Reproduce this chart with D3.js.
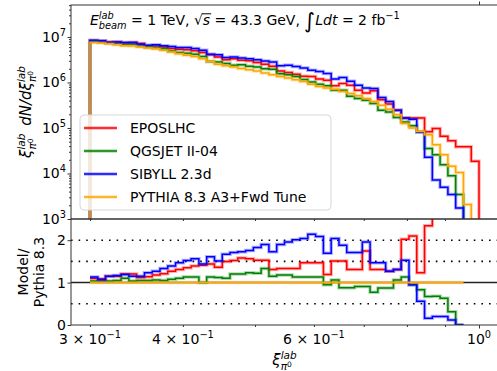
<!DOCTYPE html>
<html>
<head>
<meta charset="utf-8">
<script src="https://cdn.jsdelivr.net/npm/d3@7"></script>
<style>
  body { margin: 0; background: #fff; }
  text { font-family: "DejaVu Sans", sans-serif; fill: #000; white-space: pre; }
</style>
</head>
<body>
<svg id="chart" width="497" height="371"></svg>
<script>
// 50 log bins between 0.3 and 1.0
const nBins = 50;
const xLo = 0.3, xHi = 1.0;
const edges = d3.range(nBins + 1).map(i => xLo * Math.pow(xHi / xLo, i / nBins));

// top panel: counts per bin
const pythia = [7.59e6,7.41e6,7.08e6,6.76e6,6.46e6,6.31e6,6.03e6,5.75e6,5.50e6,5.13e6,
  4.68e6,4.27e6,3.98e6,3.72e6,3.31e6,2.88e6,2.51e6,2.34e6,2.19e6,2.04e6,
  1.91e6,1.78e6,1.62e6,1.48e6,1.35e6,1.26e6,1.15e6,1.05e6,9.12e5,8.13e5,
  7.59e5,7.08e5,6.31e5,5.75e5,5.13e5,4.47e5,3.80e5,3.16e5,2.57e5,1.95e5,
  1.26e5,1.00e5,8.51e4,7.08e4,4.27e4,2.57e4,1.45e4,1.05e4,2.09e3,0];

const epos = [8.32e6,8.13e6,7.76e6,7.76e6,7.41e6,7.59e6,7.24e6,6.46e6,6.31e6,6.03e6,
  5.62e6,5.37e6,5.25e6,5.01e6,4.57e6,4.07e6,3.63e6,3.16e6,3.31e6,3.09e6,
  3.02e6,2.75e6,2.51e6,2.29e6,1.78e6,1.66e6,1.51e6,1.38e6,1.35e6,1.20e6,
  1.12e6,8.51e5,9.55e5,8.71e5,6.76e5,5.89e5,6.61e5,4.17e5,3.39e5,2.45e5,
  1.66e5,1.66e5,1.66e5,8.32e4,9.77e4,6.61e4,5.25e4,3.89e4,3.89e4,1.86e4];

const qgsjet = [7.94e6,7.76e6,7.41e6,7.08e6,6.76e6,6.92e6,6.31e6,6.03e6,5.75e6,5.50e6,
  4.90e6,4.57e6,4.37e6,4.17e6,3.72e6,2.88e6,2.82e6,2.63e6,2.40e6,2.45e6,
  2.29e6,2.19e6,2.00e6,1.95e6,1.55e6,1.48e6,1.35e6,1.17e6,1.02e6,9.12e5,
  8.51e5,6.76e5,6.76e5,5.01e5,4.47e5,4.07e5,3.47e5,2.45e5,2.24e5,1.70e5,
  1.35e5,1.12e5,8.13e4,3.55e4,2.57e4,1.55e4,8.91e3,3.47e3,0,0];

const sibyll = [8.51e6,8.32e6,7.59e6,7.76e6,7.59e6,7.59e6,6.92e6,6.61e6,6.76e6,6.46e6,
  6.17e6,5.89e6,5.89e6,5.62e6,5.13e6,4.17e6,4.07e6,3.55e6,3.63e6,3.47e6,
  3.31e6,3.16e6,2.95e6,2.82e6,2.34e6,2.40e6,2.24e6,2.09e6,1.86e6,1.74e6,
  1.58e6,1.20e6,1.29e6,1.07e6,8.71e5,7.59e5,7.41e5,4.68e5,3.80e5,2.45e5,
  1.66e5,1.55e5,8.13e4,2.29e4,7.24e3,5.01e3,3.47e3,1.74e3,0,0];

// bottom panel: ratio to pythia, as drawn per bin
const ratioEpos = [1.10,1.09,1.15,1.15,1.20,1.20,1.12,1.14,1.18,1.21,
  1.27,1.31,1.35,1.39,1.41,1.44,1.36,1.50,1.52,1.58,
  1.56,1.53,1.53,1.31,1.33,1.33,1.33,1.47,1.47,1.47,
  1.19,1.51,1.51,1.31,1.31,1.745,1.31,1.31,1.27,1.31,
  2.02,2.10,1.23,2.34,2.60,3.60,3.70,18.0,null,null];

const ratioQgsjet = [1.04,1.04,1.04,1.05,1.10,1.04,1.05,1.05,1.06,1.05,
  1.08,1.10,1.13,1.13,1.00,1.13,1.12,1.10,1.20,1.20,
  1.23,1.22,1.33,1.15,1.18,1.18,1.13,1.13,1.13,1.13,
  0.95,1.06,0.88,0.88,0.91,0.91,0.77,0.875,0.875,1.06,
  1.13,0.95,0.83,0.67,0.68,0.63,0.31,0,null,null];

const ratioSibyll = [1.13,1.07,1.15,1.17,1.19,1.15,1.15,1.23,1.27,1.33,
  1.39,1.47,1.52,1.56,1.44,1.61,1.51,1.67,1.71,1.73,
  1.76,1.83,1.90,1.73,1.90,1.96,2.01,2.04,2.14,2.09,
  1.69,2.04,1.88,1.71,1.71,1.96,1.47,1.47,1.27,1.31,
  1.53,0.95,0.56,0.16,0.20,0.20,0.12,0,null,null];

const ratioPythia = [1,1,1,1,1,1,1,1,1,1, 1,1,1,1,1,1,1,1,1,1,
  1,1,1,1,1,1,1,1,1,1, 1,1,1,1,1,1,1,1,1,1,
  1,1,1,1,1,1,1,1,null,null];

const series = [
  { name: 'EPOSLHC', color: 'red', top: epos, ratio: ratioEpos },
  { name: 'QGSJET II-04', color: 'green', top: qgsjet, ratio: ratioQgsjet },
  { name: 'SIBYLL 2.3d', color: 'blue', top: sibyll, ratio: ratioSibyll },
  { name: 'PYTHIA 8.3 A3+Fwd Tune', color: 'orange', top: pythia, ratio: ratioPythia }
];

const topMajors = [1e3, 1e4, 1e5, 1e6, 1e7];
const ratioTicks = [0, 1, 2];
const ratioGuides = [0.5, 1.5, 2];

const L = 71, R = 498, T = 5, M = 219, B = 325;

const svg = d3.select('#chart');

const x = d3.scaleLog().domain([0.2829, 1.0605]).range([L, R]);
const yTop = d3.scaleLog().domain([1e3, 5.05e7]).range([M, T]);
const yBot = d3.scaleLinear().domain([0, 2.5]).range([B, M]);

// rich text helper: one <text>, one tspan per piece laid out left to right,
// stack = same x as the previous group start, follow = right after the last piece
function rich(parent, px, py, pieces, opt) {
  opt = opt || {};
  const base = opt.size || 14;
  const g = parent.append('g');
  const inner = g.append('g');
  const txt = inner.append('text');
  let cx = 0, groupStart = 0, lastEnd = 0;
  pieces.forEach(p => {
    const s = base * (p.s || 1);
    const t = txt.append('tspan')
      .attr('font-size', s)
      .attr('y', (p.dy || 0) * base)
      .attr('x', 0)
      .style('font-style', p.it ? 'italic' : 'normal')
      .text(p.t);
    const w = t.node().getComputedTextLength();
    let start;
    if (p.stack) start = groupStart;
    else if (p.follow) start = lastEnd;
    else { start = cx + (p.dx || 0); groupStart = start; }
    t.attr('x', start);
    lastEnd = start + w;
    cx = Math.max(cx, lastEnd);
    if (p.over) {
      inner.append('line')
        .attr('x1', start - 1).attr('x2', start + w + 1)
        .attr('y1', -0.8 * base).attr('y2', -0.8 * base)
        .attr('stroke', '#000').attr('stroke-width', 1);
    }
  });
  const shift = opt.anchor === 'middle' ? -cx / 2 : opt.anchor === 'end' ? -cx : 0;
  inner.attr('transform', `translate(${shift},0)`);
  g.attr('transform', `translate(${px},${py})` + (opt.rotate ? ` rotate(${opt.rotate})` : ''));
  return g;
}

// clip paths
const defs = svg.append('defs');
defs.append('clipPath').attr('id', 'clipTop')
  .append('rect').attr('x', L).attr('y', T).attr('width', R - L).attr('height', M - T);
defs.append('clipPath').attr('id', 'clipBot')
  .append('rect').attr('x', L).attr('y', M).attr('width', R - L).attr('height', B - M);

// ---------- top panel ----------
function topPath(vals) {
  const below = M + 20;
  let last = -1;
  vals.forEach((v, i) => { if (v > 0) last = i; });
  const pts = [[x(edges[0]), below]];
  for (let i = 0; i <= last; i++) {
    const yy = vals[i] > 0 ? yTop(vals[i]) : below;
    pts.push([x(edges[i]), yy]);
    pts.push([x(edges[i + 1]), yy]);
  }
  pts.push([x(edges[last + 1]), below]);
  return d3.line()(pts);
}

const topG = svg.append('g').attr('clip-path', 'url(#clipTop)');
series.forEach(s => {
  const d = topPath(s.top);
  topG.append('path').attr('d', d).attr('fill', 'none')
    .attr('stroke', s.color).attr('stroke-width', 3.5).attr('stroke-opacity', 0.3);
  topG.append('path').attr('d', d).attr('fill', 'none')
    .attr('stroke', s.color).attr('stroke-width', 1.5);
});

// ---------- bottom panel ----------
const botG = svg.append('g').attr('clip-path', 'url(#clipBot)');

ratioGuides.forEach(v => {
  botG.append('line')
    .attr('x1', L).attr('x2', R).attr('y1', yBot(v)).attr('y2', yBot(v))
    .attr('stroke', '#000').attr('stroke-width', 1.6)
    .attr('stroke-dasharray', '1.6,6');
});
botG.append('line')
  .attr('x1', L).attr('x2', R).attr('y1', yBot(1)).attr('y2', yBot(1))
  .attr('stroke', '#222').attr('stroke-width', 1.5);

function ratioPath(vals) {
  let d = '';
  let open = false;
  vals.forEach((v, i) => {
    if (v == null) { open = false; return; }
    const y0 = yBot(Math.min(v, 4));
    if (!open) { d += `M${x(edges[i])},${y0}`; open = true; }
    else d += `L${x(edges[i])},${y0}`;
    d += `L${x(edges[i + 1])},${y0}`;
  });
  return d;
}

series.forEach(s => {
  const d = ratioPath(s.ratio);
  botG.append('path').attr('d', d).attr('fill', 'none')
    .attr('stroke', s.color).attr('stroke-width', 3.5).attr('stroke-opacity', 0.3);
  botG.append('path').attr('d', d).attr('fill', 'none')
    .attr('stroke', s.color).attr('stroke-width', 1.5);
});

// ---------- axes ----------
const topMinors = [];
topMajors.forEach(dec => {
  for (let k = 2; k <= 9; k++) if (dec * k < 5.05e7) topMinors.push(dec * k);
});
svg.append('g').attr('transform', `translate(${L},0)`)
  .call(d3.axisLeft(yTop).tickValues(topMajors).tickSize(3.5).tickFormat(''))
  .call(g => g.select('.domain').remove());
svg.append('g').attr('transform', `translate(${L},0)`)
  .call(d3.axisLeft(yTop).tickValues(topMinors).tickSize(2).tickFormat(''))
  .call(g => g.select('.domain').remove());

topMajors.forEach(v => {
  const e = Math.round(Math.log10(v));
  rich(svg, 66, yTop(v) + 5, [{ t: '10' }, { t: String(e), s: 0.7, dy: -0.45 }], { anchor: 'end', size: 14 });
});

// bottom panel y
svg.append('g').attr('transform', `translate(${L},0)`)
  .call(d3.axisLeft(yBot).tickValues(ratioTicks).tickSize(3.5).tickFormat(''))
  .call(g => g.select('.domain').remove());
ratioTicks.forEach(v => {
  svg.append('text').attr('x', 66).attr('y', yBot(v) + 5)
    .attr('text-anchor', 'end').attr('font-size', 14).text(v);
});

// x axis
const xMinors = [0.3, 0.4, 0.5, 0.6, 0.7, 0.8, 0.9];
svg.append('g').attr('transform', `translate(0,${B})`)
  .call(d3.axisBottom(x).tickValues(xMinors).tickSize(2).tickFormat(''))
  .call(g => g.select('.domain').remove());
svg.append('g').attr('transform', `translate(0,${B})`)
  .call(d3.axisBottom(x).tickValues([1.0]).tickSize(3.5).tickFormat(''))
  .call(g => g.select('.domain').remove());
svg.append('g').attr('transform', `translate(0,${M})`)
  .call(d3.axisBottom(x).tickValues(xMinors).tickSize(2).tickFormat(''))
  .call(g => g.select('.domain').remove());
svg.append('g').attr('transform', `translate(0,${T})`)
  .call(d3.axisTop(x).tickValues([1.0]).tickSize(3.5).tickFormat(''))
  .call(g => g.select('.domain').remove());

const xLabels = [{ v: 0.3, m: '3' }, { v: 0.4, m: '4' }, { v: 0.6, m: '6' }];
xLabels.forEach(l => {
  rich(svg, x(l.v), B + 19, [{ t: l.m + ' \u00d7 10' }, { t: '\u22121', s: 0.7, dy: -0.45 }], { anchor: 'middle' });
});
rich(svg, x(1.0), B + 19, [{ t: '10' }, { t: '0', s: 0.7, dy: -0.45 }], { anchor: 'middle' });

svg.selectAll('.tick line').attr('stroke', '#000').attr('stroke-width', 0.8);

// spines
svg.append('rect').attr('x', L).attr('y', T).attr('width', R - L).attr('height', M - T)
  .attr('fill', 'none').attr('stroke', '#333').attr('stroke-width', 1);
svg.append('rect').attr('x', L).attr('y', M).attr('width', R - L).attr('height', B - M)
  .attr('fill', 'none').attr('stroke', '#333').attr('stroke-width', 1);

// ---------- text ----------
rich(svg, 90, 25, [
  { t: 'E', it: 1 }, { t: 'lab', it: 1, s: 0.7, dy: -0.45 }, { t: 'beam', it: 1, s: 0.7, dy: 0.3, stack: 1 },
  { t: ' = 1 TeV, ' }, { t: '\u221a' }, { t: 's', it: 1, over: 1 },
  { t: ' = 43.3 GeV, ' }, { t: '\u222b', s: 1.5, dy: 0.18 }, { t: 'Ldt', it: 1 },
  { t: ' = 2 fb' }, { t: '\u22121', s: 0.7, dy: -0.45 }
], { size: 14 });

// y label top
const xiPi = [
  { t: '\u03be', it: 1 }, { t: 'lab', it: 1, s: 0.7, dy: -0.4 },
  { t: '\u03c0', it: 1, s: 0.7, dy: 0.32, stack: 1 }, { t: '0', s: 0.5, dy: 0.1, follow: 1 }
];
rich(svg, 31, (T + M) / 2, [].concat(xiPi, [{ t: ' dN/d', it: 1, dx: 3 }], xiPi),
  { anchor: 'middle', rotate: -90, size: 15 });

// y label bottom
rich(svg, 28, (M + B) / 2, [{ t: 'Model/' }], { anchor: 'middle', rotate: -90, size: 14 });
rich(svg, 44, (M + B) / 2, [{ t: 'Pythia 8.3' }], { anchor: 'middle', rotate: -90, size: 14 });

// x label
rich(svg, (L + R) / 2, 365, xiPi, { anchor: 'middle', size: 15 });

// ---------- legend ----------
const leg = svg.append('g');
leg.append('rect').attr('x', 80).attr('y', 115).attr('width', 251).attr('height', 95)
  .attr('rx', 4).attr('fill', '#fff').attr('fill-opacity', 0.8)
  .attr('stroke', '#d6d6d6').attr('stroke-width', 1);
series.forEach((s, i) => {
  const yy = 128 + i * 23;
  leg.append('line').attr('x1', 84).attr('x2', 117).attr('y1', yy).attr('y2', yy)
    .attr('stroke', s.color).attr('stroke-width', 3.5).attr('stroke-opacity', 0.3);
  leg.append('line').attr('x1', 84).attr('x2', 117).attr('y1', yy).attr('y2', yy)
    .attr('stroke', s.color).attr('stroke-width', 1.5);
  leg.append('text').attr('x', 130).attr('y', yy + 5).attr('font-size', 14).text(s.name);
});
</script>
</body>
</html>
